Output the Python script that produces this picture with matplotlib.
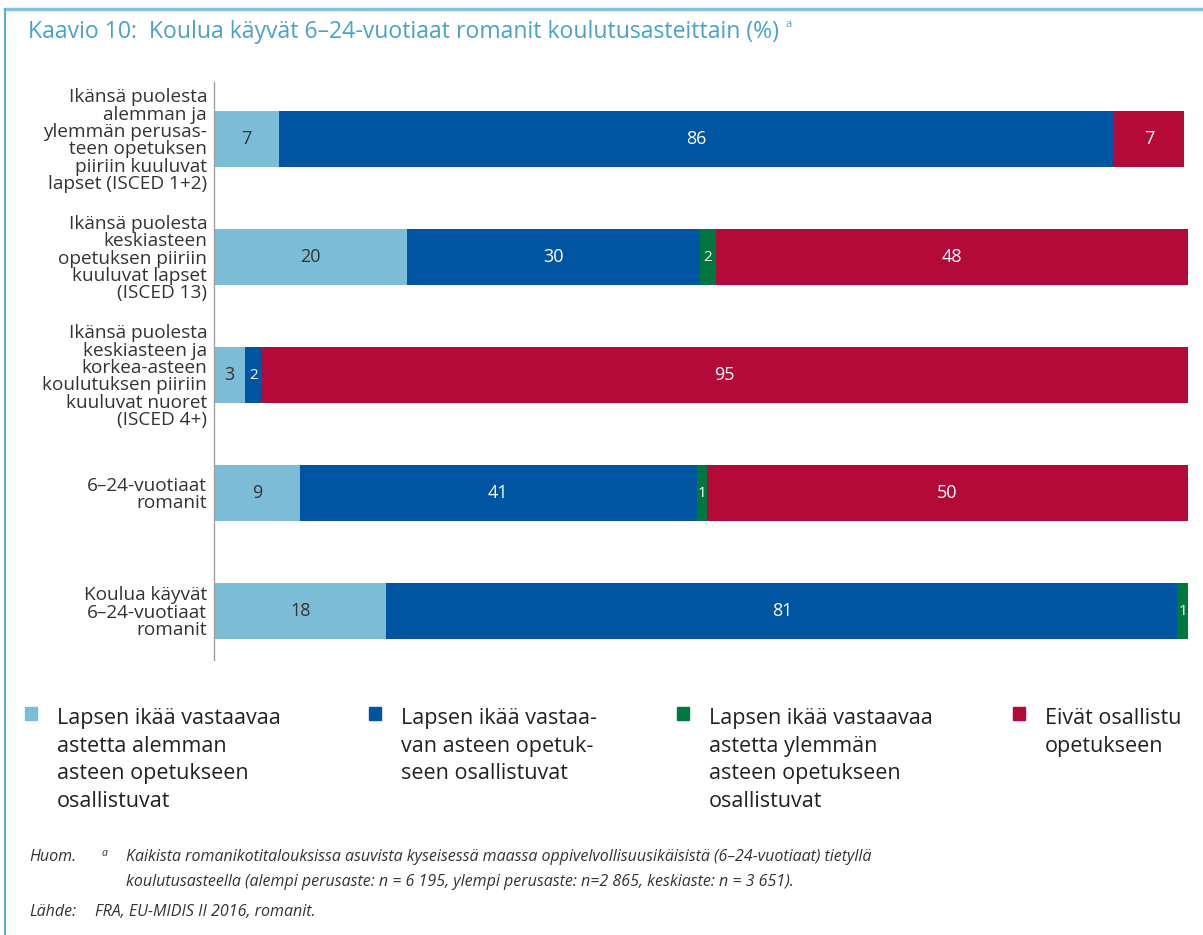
import matplotlib.pyplot as plt
import matplotlib.patches as patches
import numpy as np

# --- data ---
categories = [
    "Ikänsä puolesta\nalemman ja\nylemmän perusas-\nteen opetuksen\npiiriin kuuluvat\nlapset (ISCED 1+2)",
    "Ikänsä puolesta\nkeskiasteen\nopetuksen piiriin\nkuuluvat lapset\n(ISCED 13)",
    "Ikänsä puolesta\nkeskiasteen ja\nkorkea-asteen\nkoulutuksen piiriin\nkuuluvat nuoret\n(ISCED 4+)",
    "6–24-vuotiaat\nromanit",
    "Koulua käyvät\n6–24-vuotiaat\nromanit",
]
alempi = [6.7, 19.8, 3.2, 8.8, 17.7]
vastaava = [85.7, 30.1, 1.7, 40.8, 81.2]
ylempi = [0.0, 1.6, 0.0, 1.0, 1.1]
eivat = [7.2, 48.5, 95.1, 49.4, 0.0]
labels_alempi = ["7", "20", "3", "9", "18"]
labels_vastaava = ["86", "30", "2", "41", "81"]
labels_ylempi = ["", "2", "", "1", "1"]
labels_eivat = ["7", "48", "95", "50", ""]

series_names = [
    "Lapsen ikää vastaavaa\nastetta alemman\nasteen opetukseen\nosallistuvat",
    "Lapsen ikää vastaa-\nvan asteen opetuk-\nseen osallistuvat",
    "Lapsen ikää vastaavaa\nastetta ylemmän\nasteen opetukseen\nosallistuvat",
    "Eivät osallistu\nopetukseen",
]
colors = ["#7cbcd6", "#0055a3", "#00773f", "#b30a3a"]
text_colors = ["#333333", "white", "white", "white"]

FONT = "Open Sans"

fig = plt.figure(figsize=(12.03, 9.35), dpi=100)
W, H = 1203, 935

# frame lines
fig.add_artist(plt.Line2D([5 / W, 1], [1 - 9 / H, 1 - 9 / H], color="#86c3d8", lw=2.5))
fig.add_artist(plt.Line2D([5 / W, 5 / W], [0, 1 - 9 / H], color="#5aaed2", lw=1.5))

ax = fig.add_axes([214 / W, 275 / H, 974 / W, 578 / H])

# title + superscript
title = fig.text(28 / W, 1 - 32 / H, "Kaavio 10:  Koulua käyvät 6–24-vuotiaat romanit koulutusasteittain (%)",
                 color="#4aa2c6", fontsize=16.6, family=FONT, va="center", ha="left")
ax.annotate("a", xy=(1, 0.6), xycoords=title, xytext=(5, 0), textcoords="offset points",
            color="#4aa2c6", fontsize=8, family=FONT, va="bottom", ha="left",
            annotation_clip=False)

y = np.arange(len(categories))
series = [alempi, vastaava, ylempi, eivat]
series_labels = [labels_alempi, labels_vastaava, labels_ylempi, labels_eivat]
left = np.zeros(len(categories))
for vals, col, tcol, labs in zip(series, colors, text_colors, series_labels):
    vals = np.array(vals)
    ax.barh(y, vals, left=left, height=0.475, color=col, edgecolor="none")
    for yi, (l, v, t) in enumerate(zip(left, vals, labs)):
        if t:
            fs = 13 if v >= 3 else 11
            ax.text(l + v / 2, yi, t, ha="center", va="center", color=tcol, fontsize=fs, family=FONT)
    left += vals

ax.set_xlim(0, 100)
ax.set_ylim(4.415, -0.483)
ax.set_yticks(y)
ax.set_yticklabels(categories, fontsize=13.7, family=FONT, color="#333333", linespacing=0.95)
ax.tick_params(axis="y", length=0, pad=5)
ax.set_xticks([])
for s in ["top", "right", "bottom"]:
    ax.spines[s].set_visible(False)
ax.spines["left"].set_color("#a0a0a0")
ax.spines["left"].set_linewidth(1)

# legend
leg_x = [25, 369, 677, 1013]
for x, name, col in zip(leg_x, series_names, colors):
    fig.add_artist(patches.Rectangle((x / W, 1 - 720 / H), 12 / W, 13 / H, color=col, transform=fig.transFigure))
    fig.text((x + 32) / W, 1 - 708 / H, name, fontsize=15.5, family=FONT, color="#222222",
             va="top", ha="left", linespacing=1.42)

# notes
note_kw = dict(fontsize=11.5, family=FONT, style="italic", color="#333333", va="center", ha="left")
fig.text(29 / W, 1 - 857 / H, "Huom.", **note_kw)
fig.text(101 / W, 1 - 853 / H, "a", **{**note_kw, "fontsize": 7.5})
fig.text(126 / W, 1 - 857 / H, "Kaikista romanikotitalouksissa asuvista kyseisessä maassa oppivelvollisuusikäisistä (6–24-vuotiaat) tietyllä", **note_kw)
fig.text(126 / W, 1 - 882 / H, "koulutusasteella (alempi perusaste: n = 6 195, ylempi perusaste: n=2 865, keskiaste: n = 3 651).", **note_kw)
fig.text(29 / W, 1 - 912 / H, "Lähde:", **note_kw)
fig.text(95 / W, 1 - 912 / H, "FRA, EU-MIDIS II 2016, romanit.", **note_kw)

fig.savefig("out.png", dpi=100)
